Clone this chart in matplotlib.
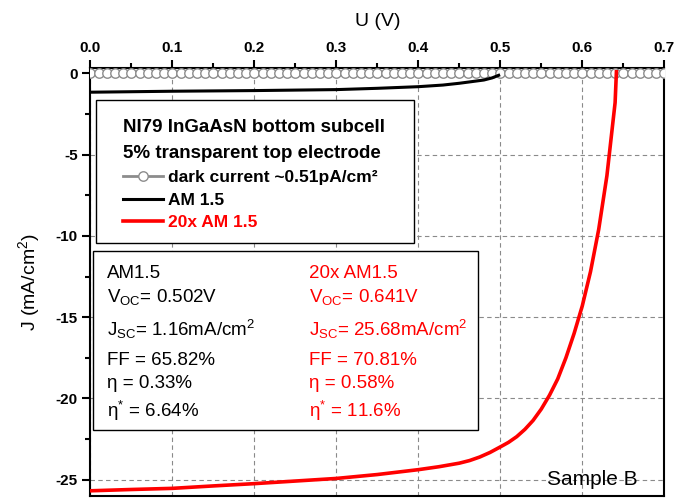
"""
J-U curves, NI79 InGaAsN bottom subcell
"""
import matplotlib
matplotlib.use('Agg')
import matplotlib.pyplot as plt
from matplotlib.patches import Rectangle

plt.rcParams['font.family'] = 'Liberation Sans'
plt.rcParams['mathtext.fontset'] = 'custom'
plt.rcParams['mathtext.rm'] = 'Liberation Sans'
plt.rcParams['mathtext.it'] = 'Liberation Sans:italic'
plt.rcParams['mathtext.bf'] = 'Liberation Sans:bold'
plt.rcParams['axes.unicode_minus'] = False

# dark current, measured every 10 mV (~0 on this scale)
dark_v = [0.00, 0.01, 0.02, 0.03, 0.04, 0.05, 0.06, 0.07, 0.08, 0.09,
          0.10, 0.11, 0.12, 0.13, 0.14, 0.15, 0.16, 0.17, 0.18, 0.19,
          0.20, 0.21, 0.22, 0.23, 0.24, 0.25, 0.26, 0.27, 0.28, 0.29,
          0.30, 0.31, 0.32, 0.33, 0.34, 0.35, 0.36, 0.37, 0.38, 0.39,
          0.40, 0.41, 0.42, 0.43, 0.44, 0.45, 0.46, 0.47, 0.48, 0.49,
          0.50, 0.51, 0.52, 0.53, 0.54, 0.55, 0.56, 0.57, 0.58, 0.59,
          0.60, 0.61, 0.62, 0.63, 0.64, 0.65, 0.66, 0.67, 0.68, 0.69,
          0.70]
dark_j = [0.0] * len(dark_v)

# AM 1.5
am15_v = [0.00, 0.05, 0.10, 0.15, 0.20, 0.25, 0.30, 0.35, 0.40, 0.43,
          0.45, 0.465, 0.48, 0.49, 0.498]
am15_j = [-1.16, -1.13, -1.10, -1.08, -1.06, -1.03, -1.00, -0.92, -0.82, -0.72,
          -0.61, -0.51, -0.41, -0.28, -0.12]

# 20x AM 1.5
am20_v = [0.00, 0.05, 0.10, 0.15, 0.20, 0.25, 0.30, 0.35, 0.40, 0.425,
          0.45, 0.4625, 0.475, 0.4875, 0.50, 0.51, 0.52, 0.53, 0.54, 0.55,
          0.56, 0.57, 0.58, 0.59, 0.60, 0.61, 0.62, 0.63, 0.64, 0.6416]
am20_j = [-25.68, -25.60, -25.53, -25.38, -25.24, -25.08, -24.92, -24.68, -24.38, -24.20,
          -23.98, -23.82, -23.60, -23.32, -22.98, -22.70, -22.35, -21.90, -21.35, -20.65,
          -19.80, -18.80, -17.50, -16.00, -14.30, -12.20, -9.60, -6.30, -1.80, 0.10]

x_ticks = [0.0, 0.1, 0.2, 0.3, 0.4, 0.5, 0.6, 0.7]
x_tick_labels = ['0.0', '0.1', '0.2', '0.3', '0.4', '0.5', '0.6', '0.7']
y_ticks = [-25, -20, -15, -10, -5, 0]
y_tick_labels = ['-25', '-20', '-15', '-10', '-5', '0']

legend_title = ['NI79 InGaAsN bottom subcell', '5% transparent top electrode']
am15_stats = ['AM1.5', 'V$_\\mathregular{OC}$= 0.502V', 'J$_\\mathregular{SC}$= 1.16mA/cm$^\\mathregular{2}$',
              'FF = 65.82%', 'η = 0.33%', 'η$^\\mathregular{*}$ = 6.64%']
am20_stats = ['20x AM1.5', 'V$_\\mathregular{OC}$= 0.641V', 'J$_\\mathregular{SC}$= 25.68mA/cm$^\\mathregular{2}$',
              'FF = 70.81%', 'η = 0.58%', 'η$^\\mathregular{*}$ = 11.6%']

fig = plt.figure(figsize=(6.76, 5), dpi=100)
ax = fig.add_axes([0.1336, 0.008, 0.8491, 0.857])

ax.plot(dark_v, dark_j, color='#8c8c8c', lw=2, marker='o', markersize=6.8,
        markerfacecolor='white', markeredgecolor='#8c8c8c', markeredgewidth=1,
        label='dark current ~0.51pA/cm²', zorder=3)
ax.plot(am15_v, am15_j, color='black', lw=2.2, label='AM 1.5', zorder=4)
ax.plot(am20_v, am20_j, color='red', lw=2.6, label='20x AM 1.5', zorder=4)

ax.set_xlim(0, 0.7)
ax.set_ylim(-26, 0.36)
ax.xaxis.tick_top()
ax.xaxis.set_label_position('top')
ax.set_xticks(x_ticks)
ax.set_xticklabels(x_tick_labels)
ax.set_xticks([0.05, 0.15, 0.25, 0.35, 0.45, 0.55, 0.65], minor=True)
ax.set_yticks(y_ticks)
ax.set_yticklabels(y_tick_labels)
ax.set_yticks([-22.5, -17.5, -12.5, -7.5, -2.5], minor=True)
ax.tick_params(which='major', direction='out', length=6, width=1.5, labelsize=11, pad=3)
ax.tick_params(which='minor', direction='out', length=3.5, width=1.5)
for lab in ax.get_xticklabels() + ax.get_yticklabels():
    lab.set_fontweight('bold')
for sp in ax.spines.values():
    sp.set_linewidth(1.5)

ax.grid(True, which='major', linestyle=(0, (4, 3)), color='#8a8a8a', lw=0.8, zorder=0)
ax.set_axisbelow(True)

ax.set_xlabel('U (V)', fontsize=14, labelpad=11)
ax.set_ylabel('J (mA/cm$^\\mathregular{2}$)', fontsize=14, labelpad=10)

# legend box: frame + title lines drawn separately so spacing can match
ax.add_patch(Rectangle((0.0099, 0.5904), 0.554, 0.3337, transform=ax.transAxes,
                       facecolor='white', edgecolor='black', lw=1.0, zorder=5))
ax.text(0.057, 0.8502, legend_title[0], transform=ax.transAxes, fontsize=13.5,
        fontweight='bold', va='baseline', ha='left', zorder=7)
ax.text(0.057, 0.7895, legend_title[1], transform=ax.transAxes, fontsize=13.5,
        fontweight='bold', va='baseline', ha='left', zorder=7)
leg = ax.legend(loc='upper left', bbox_to_anchor=(0.057, 0.7608), borderaxespad=0,
                prop={'weight': 'bold', 'size': 12.5}, labelcolor=['black', 'black', 'red'],
                numpoints=1, handlelength=2.3, handletextpad=0.29, labelspacing=0.43,
                borderpad=0, frameon=False)
leg.set_zorder(6)

# stats box
ax.add_patch(Rectangle((0.0047, 0.154), 0.6707, 0.4177, transform=ax.transAxes,
                       facecolor='white', edgecolor='black', lw=1.0, zorder=6))
text_y = [0.508, 0.4535, 0.374, 0.3057, 0.252, 0.185]
for i in range(len(am15_stats)):
    ax.text(0.0291, text_y[i], am15_stats[i], transform=ax.transAxes, fontsize=13.5,
            color='black', va='baseline', ha='left', zorder=7)
    ax.text(0.3807, text_y[i], am20_stats[i], transform=ax.transAxes, fontsize=13.5,
            color='red', va='baseline', ha='left', zorder=7)

ax.text(0.7956, 0.0257, 'Sample B', transform=ax.transAxes, fontsize=15,
        va='baseline', ha='left', zorder=7)

plt.savefig('out.png', dpi=100)
